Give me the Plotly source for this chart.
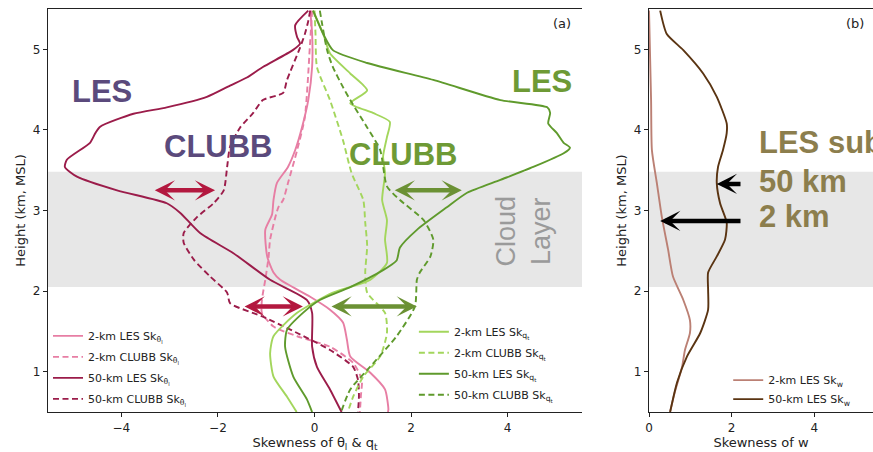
import plotly.graph_objects as go

# ---------------- data ----------------
# Panel (a): skewness of theta_l
les50_th_z = [5.48, 5.30, 5.15, 5.07, 4.99, 4.78, 4.65, 4.55, 4.41, 4.28, 4.20, 4.04, 3.96, 3.84, 3.63, 3.54,
              3.42, 3.25, 3.09, 2.97, 2.72, 2.47, 2.14, 1.89, 1.73, 1.31, 1.06, 0.78, 0.50]
les50_th_v = [-0.13, -0.40, -0.36, -0.30, -0.45, -1.07, -1.40, -1.75, -2.23, -3.06, -3.75, -4.44, -4.54, -4.65,
              -5.13, -5.17, -4.92, -4.09, -3.06, -2.78, -2.37, -1.68, -0.92, -0.16, -0.05, -0.05, 0.05, 0.32, 0.56]

clb50_th_z = [5.48, 5.35, 5.19, 5.02, 4.62, 4.46, 4.37, 4.21, 4.03, 3.79, 3.54, 3.25, 3.09, 2.92, 2.72, 2.60,
              2.39, 2.18, 1.98, 1.85, 1.68, 1.48, 1.27, 1.06, 0.90, 0.70, 0.50]
clb50_th_v = [-0.09, -0.13, -0.20, -0.30, -0.57, -0.65, -1.07, -1.27, -1.54, -1.75, -1.81, -1.88, -2.09, -2.43,
              -2.71, -2.71, -2.50, -2.16, -1.81, -1.75, -1.06, -0.36, 0.32, 0.80, 0.90, 0.92, 0.90]

les2_th_z = [5.48, 5.20, 4.78, 4.37, 4.03, 3.75, 3.54, 3.34, 3.13, 2.95, 2.76, 2.43, 2.23, 2.14, 1.93, 1.77,
             1.61, 1.40, 1.19, 0.99, 0.78, 0.53, 0.50]
les2_th_v = [-0.09, -0.05, -0.05, -0.13, -0.26, -0.40, -0.55, -0.78, -0.85, -0.88, -1.02, -0.98, -0.85, -0.71,
             -0.09, 0.32, 0.59, 0.67, 0.74, 1.15, 1.46, 1.53, 1.52]

clb2_th_z = [5.48, 5.10, 4.16, 3.75, 3.34, 3.13, 3.04, 2.64, 2.43, 2.14, 1.89, 1.73, 1.56, 1.44, 1.31, 1.11,
             0.90, 0.70, 0.50]
clb2_th_v = [-0.05, -0.09, -0.20, -0.36, -0.55, -0.65, -0.75, -0.92, -0.95, -1.02, -1.09, -1.09, -0.85, -0.36,
             0.32, 0.80, 0.98, 0.96, 0.94]

# Panel (a): skewness of q_t
les50_qt_z = [5.48, 5.19, 4.99, 4.83, 4.62, 4.37, 4.28, 4.21, 4.08, 3.96, 3.84, 3.78, 3.71, 3.54, 3.38, 3.22,
              3.04, 2.76, 2.54, 2.38, 2.26, 2.05, 1.89, 1.73, 1.52, 1.31, 0.94, 0.66, 0.50]
les50_qt_v = [-0.03, 0.18, 0.38, 1.09, 2.46, 3.85, 4.82, 4.88, 4.84, 5.02, 5.16, 5.29, 5.16, 4.53, 3.85, 3.16,
              2.74, 2.12, 1.77, 1.70, 1.42, 0.74, 0.11, -0.24, -0.57, -0.61, -0.44, -0.16, -0.05]

les2_qt_z = [5.48, 5.19, 4.95, 4.70, 4.49, 4.33, 4.21, 4.10, 3.91, 3.67, 3.46, 3.13, 2.88, 2.64, 2.35, 2.14,
             1.98, 1.73, 1.44, 1.23, 0.94, 0.69, 0.50]
les2_qt_v = [-0.03, 0.18, 0.32, 0.74, 1.09, 0.74, 1.21, 1.56, 1.50, 1.42, 1.46, 1.40, 1.50, 1.46, 1.50, 1.15,
             0.38, -0.36, -0.85, -0.92, -0.85, -0.57, -0.37]

clb2_qt_z = [5.48, 5.20, 4.78, 4.37, 3.87, 3.46, 3.13, 2.85, 2.56, 2.23, 1.98, 1.73, 1.48, 1.19, 0.94, 0.69, 0.50]
clb2_qt_v = [0.00, 0.02, 0.05, 0.32, 0.59, 0.77, 1.01, 1.05, 1.09, 1.05, 1.09, 1.46, 1.50, 1.36, 1.01, 0.80, 0.69]

clb50_qt_z = [5.48, 4.99, 4.78, 4.53, 4.37, 4.03, 3.75, 3.30, 3.13, 2.88, 2.64, 2.43, 2.23, 2.14, 1.81, 1.44,
              1.06, 0.78, 0.50]
clb50_qt_v = [0.11, 0.26, 0.38, 0.59, 0.74, 1.09, 1.36, 1.50, 1.77, 2.26, 2.46, 2.40, 2.18, 2.12, 2.08, 1.70,
              1.15, 0.74, 0.55]

# Panel (b): skewness of w
les50_w_z = [5.48, 5.19, 4.99, 4.70, 4.41, 4.08, 3.96, 3.75, 3.54, 3.34, 3.09, 2.85, 2.64, 2.43, 2.23, 2.02,
             1.77, 1.48, 1.19, 0.87, 0.50]
les50_w_v = [0.27, 0.43, 0.83, 1.31, 1.64, 1.88, 1.88, 1.79, 1.67, 1.64, 1.72, 1.88, 1.84, 1.64, 1.43, 1.43,
             1.43, 1.24, 0.92, 0.68, 0.51]
les2_w_z = [5.48, 4.37, 3.75, 3.34, 2.92, 2.52, 2.18, 1.89, 1.64, 1.48, 1.27, 1.06, 0.74, 0.50]
les2_w_v = [0.00, 0.05, 0.07, 0.19, 0.31, 0.46, 0.58, 0.83, 0.99, 0.99, 0.87, 0.80, 0.62, 0.51]

cloud_base, cloud_top = 2.05, 3.48
xticks_a = [-4, -2, 0, 2, 4]
xticks_b = [0, 2, 4]
yticks = [1, 2, 3, 4, 5]

# ---------------- styles ----------------
C_PINK = "#e77ea4"
C_CRIM = "#9b1c4a"
C_LGRN = "#a3d65c"
C_DGRN = "#5f9a2c"
C_W2 = "#bb8074"
C_W50 = "#5a3412"
DASH = "6px,3.5px"
FONT = "DejaVu Sans"
BOLD = "Liberation Sans"

fig = go.Figure()

def add(x, y, name, color, dash, xa, ya, legend):
    fig.add_trace(go.Scatter(
        x=x, y=y, name=name, mode="lines", xaxis=xa, yaxis=ya, legend=legend,
        legendgroup=name,
        line=dict(color=color, width=1.9, dash=dash, shape="spline", smoothing=0.6)))

TH = "Sk<sub>θ<sub>l</sub></sub>"
QT = "Sk<sub>q<sub>t</sub></sub>"
add(les2_th_v, les2_th_z, "2-km LES " + TH, C_PINK, "solid", "x", "y", "legend")
add(clb2_th_v, clb2_th_z, "2-km CLUBB " + TH, C_PINK, DASH, "x", "y", "legend")
add(les50_th_v, les50_th_z, "50-km LES " + TH, C_CRIM, "solid", "x", "y", "legend")
add(clb50_th_v, clb50_th_z, "50-km CLUBB " + TH, C_CRIM, DASH, "x", "y", "legend")
add(les2_qt_v, les2_qt_z, "2-km LES " + QT, C_LGRN, "solid", "x", "y", "legend2")
add(clb2_qt_v, clb2_qt_z, "2-km CLUBB " + QT, C_LGRN, DASH, "x", "y", "legend2")
add(les50_qt_v, les50_qt_z, "50-km LES " + QT, C_DGRN, "solid", "x", "y", "legend2")
add(clb50_qt_v, clb50_qt_z, "50-km CLUBB " + QT, C_DGRN, DASH, "x", "y", "legend2")
add(les2_w_v, les2_w_z, "2-km LES Sk<sub>w</sub>", C_W2, "solid", "x2", "y2", "legend3")
add(les50_w_v, les50_w_z, "50-km LES Sk<sub>w</sub>", C_W50, "solid", "x2", "y2", "legend3")

axis_common = dict(showgrid=False, zeroline=False, showline=True, linecolor="#222", linewidth=1.3,
                   ticks="outside", ticklen=4, tickcolor="#222", tickfont=dict(family=FONT, size=12, color="#222"))

fig.update_layout(
    width=873, height=452,
    margin=dict(l=48, r=0, t=9, b=40),
    plot_bgcolor="white", paper_bgcolor="white",
    font=dict(family=FONT, size=12, color="#222"),
    xaxis=dict(domain=[0, 0.6473], range=[-5.52, 5.54], tickvals=xticks_a, mirror=True,
               title=dict(text="Skewness of θ<sub>l</sub> & q<sub>t</sub>", font=dict(size=13), standoff=4),
               **axis_common),
    yaxis=dict(range=[0.5, 5.5], tickvals=yticks, anchor="x",
               title=dict(text="Height (km, MSL)", font=dict(size=13), standoff=4), **axis_common),
    yaxis3=dict(range=[0.5, 5.5], tickvals=yticks, overlaying="y", side="right", anchor="x", **axis_common),
    xaxis2=dict(domain=[0.7285, 1], range=[0, 5.42], tickvals=xticks_b, anchor="y2", mirror=True,
                title=dict(text="Skewness of w", font=dict(size=13), standoff=4), **axis_common),
    yaxis2=dict(range=[0.5, 5.5], tickvals=yticks, anchor="x2",
                title=dict(text="Height (km, MSL)", font=dict(size=13), standoff=4), **axis_common),
    legend=dict(x=0.0, y=0.225, xanchor="left", yanchor="top", bgcolor="rgba(0,0,0,0)",
                font=dict(family=FONT, size=11), tracegroupgap=2),
    legend2=dict(x=0.4435, y=0.235, xanchor="left", yanchor="top", bgcolor="rgba(0,0,0,0)",
                 font=dict(family=FONT, size=11), tracegroupgap=2),
    legend3=dict(x=0.8245, y=0.115, xanchor="left", yanchor="top", bgcolor="rgba(0,0,0,0)",
                 font=dict(family=FONT, size=11), tracegroupgap=0),
    showlegend=True,
)

# Cloud layer shading
for xr, yr in (("x domain", "y"), ("x2 domain", "y2")):
    fig.add_shape(type="rect", xref=xr, yref=yr, x0=0, x1=1, y0=cloud_base, y1=cloud_top,
                  fillcolor="#e7e7e7", line=dict(width=0), layer="below")

def txt(x, y, s, color, size, xa="x", ya="y", bold=True, angle=0, xanchor="center"):
    fig.add_annotation(x=x, y=y, xref=xa, yref=ya, text=s, showarrow=False, textangle=angle,
                       xanchor=xanchor,
                       font=dict(family=BOLD if bold else "Liberation Sans", size=size, color=color,
                                 weight="bold" if bold else "normal"))

PURPLE = "#5b4a7c"
GTXT = "#6e9a35"
txt(-4.40, 4.48, "LES", PURPLE, 31)
txt(-1.98, 3.80, "CLUBB", PURPLE, 31)
txt(4.71, 4.60, "LES", GTXT, 31)
txt(1.85, 3.70, "CLUBB", GTXT, 31)
txt(4.32, 2.74, "Cloud<br>Layer", "#9a9a9a", 27, bold=False, angle=-90)
fig.add_annotation(x=5.12, y=5.32, xref="x", yref="y", text="(a)", showarrow=False,
                   font=dict(family=FONT, size=13, color="#222"))
fig.add_annotation(x=4.99, y=5.32, xref="x2", yref="y2", text="(b)", showarrow=False,
                   font=dict(family=FONT, size=13, color="#222"))

OLIVE = "#8c7e4d"
txt(2.62, 3.84, "LES sub", OLIVE, 31, xa="x2", ya="y2", xanchor="left")
txt(2.62, 3.36, "50 km", OLIVE, 31, xa="x2", ya="y2", xanchor="left")
txt(2.62, 2.92, "2 km", OLIVE, 31, xa="x2", ya="y2", xanchor="left")

def darrow(x0, x1, y, color, xa="x", ya="y"):
    fig.add_annotation(x=x1, y=y, ax=x0, ay=y, xref=xa, yref=ya, axref=xa, ayref=ya, text="",
                       showarrow=True, arrowside="end+start", arrowhead=3, startarrowhead=3,
                       arrowsize=0.75, startarrowsize=0.75, arrowwidth=4.5, arrowcolor=color)

def sarrow(x_tip, x_tail, y, color, xa, ya):
    fig.add_annotation(x=x_tip, y=y, ax=x_tail, ay=y, xref=xa, yref=ya, axref=xa, ayref=ya, text="",
                       showarrow=True, arrowside="end", arrowhead=3,
                       arrowsize=0.75, arrowwidth=4.5, arrowcolor=color)

C_ARR_R = "#b3183f"
C_ARR_G = "#6b9134"
darrow(-3.34, -2.06, 3.25, C_ARR_R)
darrow(-1.48, -0.24, 1.81, C_ARR_R)
darrow(1.63, 3.05, 3.25, C_ARR_G)
darrow(0.32, 2.12, 1.81, C_ARR_G)
sarrow(1.64, 2.25, 3.33, "black", "x2", "y2")
sarrow(0.27, 2.25, 2.87, "black", "x2", "y2")

fig.write_html("out.html")
